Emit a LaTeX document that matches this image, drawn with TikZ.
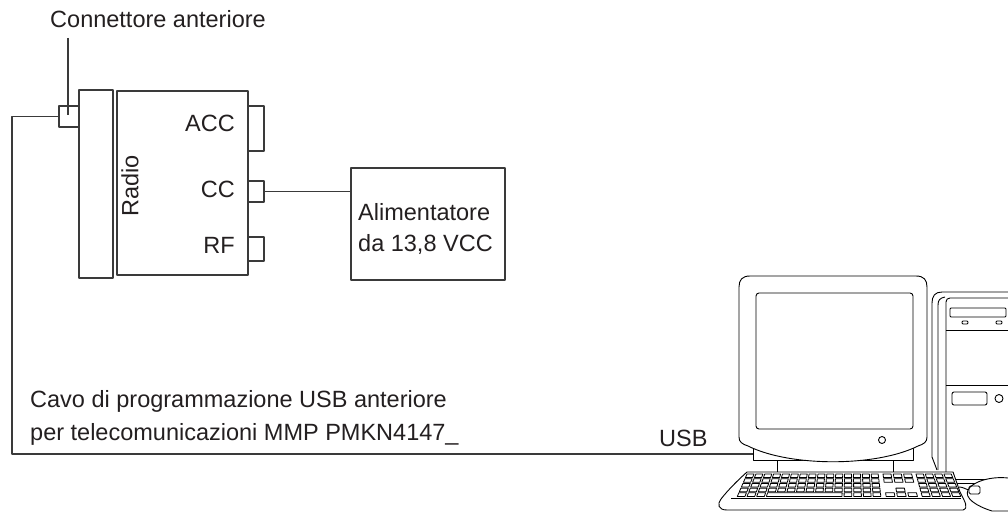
\documentclass[tikz,border=0pt]{standalone}
\usepackage{fontspec}
\setmainfont{Liberation Sans}
\definecolor{ink}{HTML}{3A3A3A}
\definecolor{txt}{HTML}{231F20}
% one key of the keyboard: #1,#2 = left/right x of the key in the top row, #3 = row
\newcommand\kbkey[3]{%
  \pgfmathsetmacro\kya{474+#3*4.7}%
  \pgfmathsetmacro\kyb{\kya+3.6}%
  \pgfmathsetmacro\kfa{1+0.0042*(\kya-474)}%
  \pgfmathsetmacro\kfb{1+0.0042*(\kyb-474)}%
  \draw[keyst] ({850+(#1-850)*\kfa},\kya) -- ({850+(#2-850)*\kfa},\kya)
     -- ({850+(#2-850)*\kfb},\kyb) -- ({850+(#1-850)*\kfb},\kyb) -- cycle;}
\begin{document}
\begin{tikzpicture}[x=1pt,y=-1pt,line join=round,
  wire/.style={draw=ink, line width=1.1pt},
  box/.style={draw=ink, line width=1.1pt, fill=white, inner sep=0pt, outer sep=0pt, anchor=north west},
  lbl/.style={text=txt, inner sep=0pt, font=\fontsize{23.5}{31}\selectfont},
  pc/.style={draw=black, line width=0.9pt},
  keyst/.style={draw=black, line width=0.8pt}]

\useasboundingbox (0,0) rectangle (1008,511);

% ---- radio with its connectors ----
\node[box, minimum width=34pt,  minimum height=188pt] (panel) at (79,90) {};
\node[box, minimum width=131pt, minimum height=184pt] (radio) at (117,91) {};
\node[box, minimum width=20pt,  minimum height=21pt]  (conn)  at (59,106) {};
\node[box, minimum width=16pt,  minimum height=45pt]  (acc)   at (248,106) {};
\node[box, minimum width=16pt,  minimum height=21pt]  (cc)    at (248,181) {};
\node[box, minimum width=16pt,  minimum height=24pt]  (rf)    at (248,237) {};
\node[box, minimum width=154pt, minimum height=112pt] (psu)   at (351,168) {};

\node[lbl, anchor=base] (title) at (158,28) {Connettore anteriore};
\node[lbl, anchor=base east] (accl) at (235,131) {ACC};
\node[lbl, anchor=base east] (ccl)  at (235,197) {CC};
\node[lbl, anchor=base east] (rfl)  at (235,253) {RF};
\node[lbl, rotate=90] (radiol) at (130,186) {Radio};
\node[lbl, anchor=north west, align=left] (psul) at (358,203.5) {Alimentatore\\da 13,8 VCC};

% leader from the label to the front connector
\coordinate (leadtop) at (68,38);
\coordinate (leadend) at (68,115);
\draw[wire] (leadtop) -- (leadend);

% power cable
\draw[wire] (cc.east) -- (cc.east -| psu.west);

% programming cable
\coordinate (usbin) at (753,454);
\draw[wire] (conn.west) -| (12,454) -- (usbin);
\node[lbl, anchor=north west, align=left, font=\fontsize{23.5}{33}\selectfont] (cable) at (30,390.5)
  {Cavo di programmazione USB anteriore\\per telecomunicazioni MMP PMKN4147\_};
\node[lbl, anchor=base west] (usbl) at (659,446) {USB};

% ---- computer: tower ----
\draw[pc] (932,457) -- (932,303) .. controls (932,296) and (935,292) .. (942,292) -- (1008,292);
\draw[pc] (932,457) -- (937,470);
\draw[pc] (938,470) -- (938,305) .. controls (938,300) and (940,298) .. (945,297);
\draw[pc] (946,472) -- (946,302) .. controls (946,299.5) and (947.5,298) .. (950,298) -- (1008,298);
\draw[pc, rounded corners=1pt] (950,308) rectangle (1006,317);
\draw[pc, rounded corners=1pt] (962,321) rectangle (968,324);
\draw[pc, rounded corners=1pt] (996,321) rectangle (1002,324);
\draw[pc] (946,330) -- (1008,330);
\draw[pc] (946,385) -- (1008,385);
\draw[pc, rounded corners=2pt] (952,392) rectangle (987,405);
\draw[pc] (999,398.5) circle (4);
\draw[pc] (955,479) -- (1008,479);
\draw[pc] (955,483) -- (1008,483);

% ---- monitor ----
\draw[pc, fill=white] (753,440) rectangle (913,460);
\draw[pc] (777,460) -- (777,472);
\draw[pc] (893,460) -- (893,472);
\draw[pc, fill=white] (739,437) -- (739,287) .. controls (739,280) and (742,276) .. (750,276)
  -- (916,276) .. controls (924,276) and (927,280) .. (927,287) -- (927,437)
  .. controls (927,442) and (924,444) .. (918,446)
  .. controls (876,467) and (790,467) .. (748,446)
  .. controls (742,444) and (739,442) .. (739,437) -- cycle;
\draw[pc, rounded corners=3pt] (756,293) rectangle (913,429);
\draw[pc] (882,440) circle (3.5);

% ---- keyboard ----
\draw[pc, fill=white] (747,472) -- (953,472) -- (960,492)
  .. controls (965,502) and (969,508) .. (963,510) -- (727,510)
  .. controls (718,510) and (717,504) .. (721,499)
  .. controls (728,490) and (738,480) .. (747,472) -- cycle;
\draw[pc] (731,498) -- (961,498);
\foreach \r in {0,...,3}
  \foreach \c in {0,...,14} {\kbkey{747+\c*8.87}{747+\c*8.87+7}{\r}}
\foreach \c in {0,1,2,11,12,13,14} {\kbkey{747+\c*8.87}{747+\c*8.87+7}{4}}
\kbkey{747+3*8.87}{747+10*8.87+7}{4}
\foreach \r in {0,1,4}
  \foreach \c in {0,1,2} {\kbkey{883+\c*10.3}{883+\c*10.3+8}{\r}}
\kbkey{883+10.3}{883+10.3+8}{3}
\foreach \r in {0,...,4}
  \foreach \c in {0,...,3} {\kbkey{916+\c*9.3}{916+\c*9.3+7.3}{\r}}

% ---- mouse ----
\draw[pc] (959,487) .. controls (963,487) and (965,489) .. (969,490);
\draw[pc, fill=white] (1008,478) .. controls (990,476) and (972,482) .. (968,490)
  .. controls (964,498) and (976,506) .. (992,511) -- (1008,511);
\draw[pc, rounded corners=1.5pt] (969,486) rectangle (980,494);
\end{tikzpicture}
\end{document}
